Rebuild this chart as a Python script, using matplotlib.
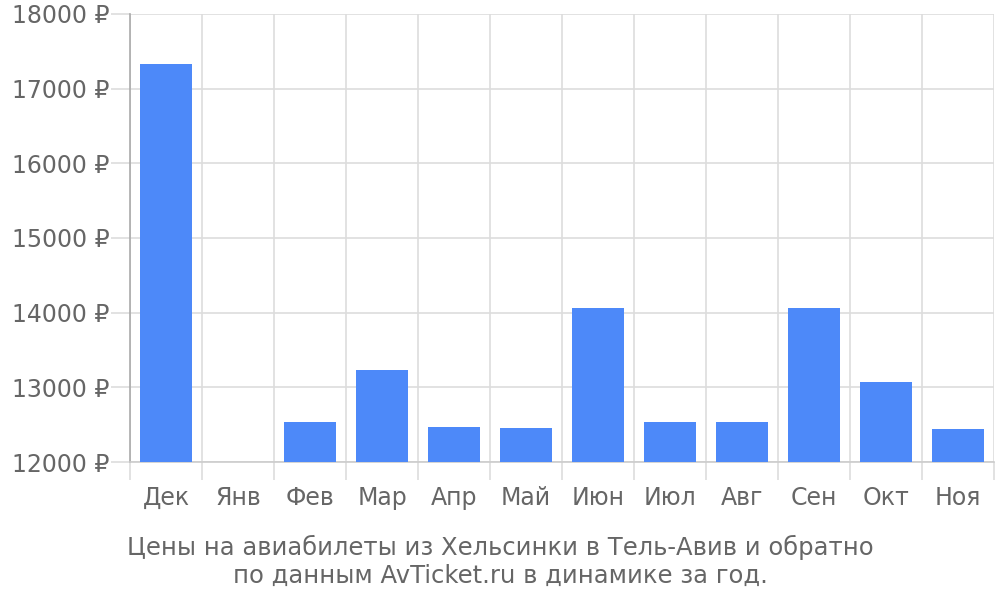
import numpy as np
import matplotlib.pyplot as plt

# data
months = ['Дек', 'Янв', 'Фев', 'Мар', 'Апр', 'Май', 'Июн', 'Июл', 'Авг', 'Сен', 'Окт', 'Ноя']
prices = [17330, np.nan, 12536, 13232, 12469, 12462, 14062, 12536, 12536, 14062, 13078, 12442]
yticks = [12000, 13000, 14000, 15000, 16000, 17000, 18000]

text_col = '#666666'
grid_col = '#dddddd'

fig = plt.figure(figsize=(10, 6), dpi=100)
ax = fig.add_axes([0.13, 0.23, 0.864, 0.7467])

x = np.arange(len(months))
ax.bar(x, prices, width=0.72, color='#4d89f9', bottom=0, zorder=3)

ax.set_xlim(-0.5, len(months) - 0.5)
ax.set_ylim(12000, 18000)

# y axis
ax.set_yticks(yticks)
ax.set_yticklabels(['%d ₽' % v for v in yticks])
ax.tick_params(axis='y', length=14, color=grid_col, width=1.2, pad=1,
               labelsize=17, labelcolor=text_col)
ax.yaxis.grid(True, color=grid_col, linewidth=1.2, zorder=0)

# x axis: labels at centers, grid/ticks at boundaries
ax.set_xticks(x)
ax.set_xticklabels(months)
ax.tick_params(axis='x', which='major', length=0, pad=17,
               labelsize=17, labelcolor=text_col)
ax.set_xticks(np.arange(len(months) + 1) - 0.5, minor=True)
ax.tick_params(axis='x', which='minor', length=13, color=grid_col, width=1.2)
ax.xaxis.grid(True, which='minor', color=grid_col, linewidth=1.2, zorder=0)

for s in ['top', 'right']:
    ax.spines[s].set_visible(False)
ax.spines['left'].set_color('#aaaaaa')
ax.spines['left'].set_bounds(12000, 18000)
ax.spines['bottom'].set_color('#cccccc')
ax.spines['left'].set_linewidth(1.2)
ax.spines['bottom'].set_linewidth(1.2)
ax.set_axisbelow(True)

fig.text(0.5, 0.065, 'Цены на авиабилеты из Хельсинки в Тель-Авив и обратно\n'
         'по данным AvTicket.ru в динамике за год.',
         ha='center', va='center', multialignment='center',
         fontsize=17.5, color=text_col, linespacing=1.2)

fig.savefig('out.png')
